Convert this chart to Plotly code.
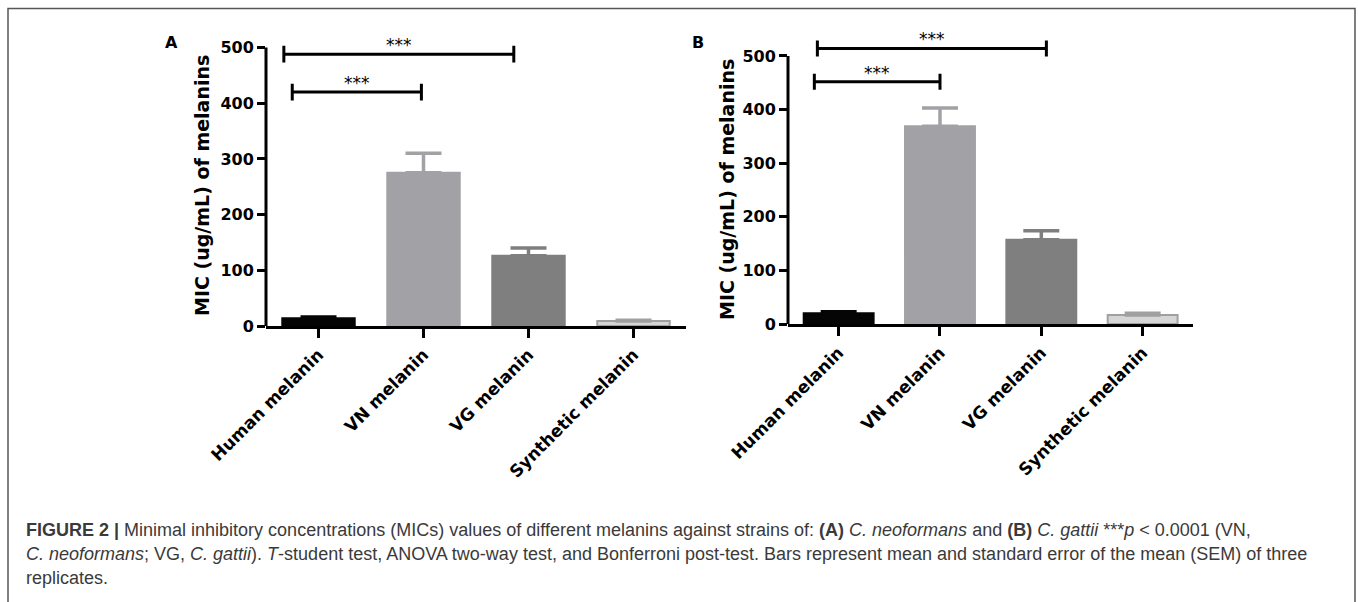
import plotly.graph_objects as go

categories = ["Human melanin", "VN melanin", "VG melanin", "Synthetic melanin"]
# Panel A: C. neoformans
mic_a = [14, 275, 126, 9]
sem_a = [2, 35, 14, 1.5]
# Panel B: C. gattii
mic_b = [20, 369, 157, 17]
sem_b = [3, 34, 17, 3]

bar_colors = ["#050505", "#a2a2a6", "#7f7f7f", "#d6d6d6"]
line_colors = ["#050505", "#a2a2a6", "#7f7f7f", "#a0a0a0"]
y_ticks = [0, 100, 200, 300, 400, 500]

# significance brackets: (x start, x end, y level) in category index units
brackets_a = [(-0.33, 1.86, 488), (-0.25, 0.98, 420)]
brackets_b = [(-0.21, 2.05, 514), (-0.24, 1.0, 452)]
sig_label = "***"

W, H = 1358, 602
BOLD = "DejaVu Sans"

fig = go.Figure()

def add_panel(vals, sems, xa, ya):
    for i, cat in enumerate(categories):
        fig.add_trace(go.Bar(
            x=[i], y=[vals[i]], xaxis=xa, yaxis=ya,
            marker=dict(color=bar_colors[i], line=dict(color=line_colors[i], width=2)),
            error_y=dict(type="data", symmetric=False, array=[sems[i]], arrayminus=[0],
                         color=line_colors[i], thickness=3.5, width=18),
            showlegend=False, hoverinfo="skip",
        ))

add_panel(mic_a, sem_a, "x", "y")
add_panel(mic_b, sem_b, "x2", "y2")

axis_common = dict(showgrid=False, zeroline=False, automargin=False)
xcommon = dict(axis_common, tickmode="array", tickvals=list(range(len(categories))),
               ticktext=categories, range=[-0.5, 3.5], showline=True, linewidth=3,
               linecolor="black", ticks="outside", ticklen=9, tickwidth=3, tickcolor="black",
               tickangle=-45, tickfont=dict(family=BOLD, size=17, color="black", weight="bold"))
ycommon = dict(axis_common, tickmode="array", tickvals=y_ticks, range=[0, 530],
               showline=False, ticks="outside", ticklen=8, tickwidth=3, tickcolor="black",
               tickfont=dict(family=BOLD, size=16, color="black", weight="bold"))

fig.update_layout(
    template="none",
    width=W, height=H, margin=dict(l=0, r=0, t=0, b=0, autoexpand=False),
    paper_bgcolor="white", plot_bgcolor="white",
    barmode="overlay", bargap=0.31,
    xaxis=dict(xcommon, domain=[266 / W, 686 / W], anchor="y"),
    yaxis=dict(ycommon, domain=[1 - 326 / H, 1 - 30.8 / H], anchor="x"),
    xaxis2=dict(xcommon, domain=[788 / W, 1193.3 / W], anchor="y2"),
    yaxis2=dict(ycommon, domain=[1 - 324 / H, 1 - 39.9 / H], anchor="x2"),
    font=dict(family="Liberation Sans, Arial", color="black"),
)

shapes = []
annotations = []
# y axis lines from 0 to 500
for xa, ya in (("x", "y"), ("x2", "y2")):
    shapes.append(dict(type="line", xref=f"{xa} domain", yref=ya, x0=0, x1=0,
                       y0=0, y1=y_ticks[-1], line=dict(color="black", width=3)))

cap = 15
for (xa, ya, brs) in (("x", "y", brackets_a), ("x2", "y2", brackets_b)):
    for (x0, x1, yv) in brs:
        shapes.append(dict(type="line", xref=xa, yref=ya, x0=x0, x1=x1, y0=yv, y1=yv,
                           line=dict(color="black", width=3)))
        for xx in (x0, x1):
            shapes.append(dict(type="line", xref=xa, yref=ya, x0=xx, x1=xx,
                               y0=yv - cap, y1=yv + cap, line=dict(color="black", width=3)))
        annotations.append(dict(xref=xa, yref=ya, x=(x0 + x1) / 2, y=yv, text=sig_label,
                                showarrow=False, xanchor="center", yanchor="bottom", yshift=-3,
                                font=dict(family=BOLD, size=17, color="black")))

# y-axis titles
for xp, yp in ((202, 186), (727, 190)):
    annotations.append(dict(xref="paper", yref="paper", x=xp / W, y=1 - yp / H,
                            xanchor="center", yanchor="middle",
                            text="<b>MIC (ug/mL) of melanins</b>", textangle=-90,
                            showarrow=False, font=dict(family=BOLD, size=19, color="black")))
# panel letters
for lab, xp, yp in (("A", 171, 42), ("B", 698, 43)):
    annotations.append(dict(xref="paper", yref="paper", x=xp / W, y=1 - yp / H,
                            xanchor="center", yanchor="middle",
                            text=f"<b>{lab}</b>", showarrow=False,
                            font=dict(family=BOLD, size=16, color="black")))

# caption
cap_lines = [
    "<b>FIGURE 2 |</b> Minimal inhibitory concentrations (MICs) values of different melanins against strains of: "
    "<b>(A)</b> <i>C. neoformans</i> and <b>(B)</b> <i>C. gattii</i> ***<i>p</i> &lt; 0.0001 (VN,",
    "<i>C. neoformans</i>; VG, <i>C. gattii</i>). <i>T</i>-student test, ANOVA two-way test, and Bonferroni "
    "post-test. Bars represent mean and standard error of the mean (SEM) of three",
    "replicates.",
]
for k, (line, yp) in enumerate(zip(cap_lines, (530, 554, 578))):
    annotations.append(dict(xref="paper", yref="paper", x=24 / W, y=1 - yp / H,
                            xanchor="left", yanchor="middle", text=line, showarrow=False,
                            font=dict(family="Liberation Sans, Arial", size=18, color="#3a3a3a")))

# frame
shapes.append(dict(type="rect", xref="paper", yref="paper", x0=8 / W, x1=1355 / W,
                   y0=-0.05, y1=1 - 8.5 / H, line=dict(color="#555555", width=1.5)))

fig.update_layout(shapes=shapes, annotations=annotations)
fig.write_html("out.html", config={"displayModeBar": False},
               post_script="document.body.style.margin='0px';")
